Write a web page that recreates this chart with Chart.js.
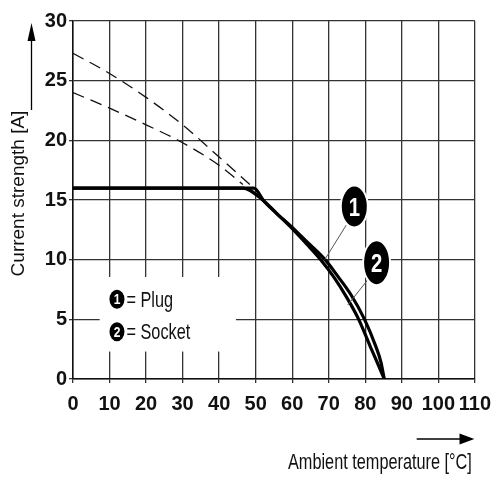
<!DOCTYPE html>
<html>
<head>
<meta charset="utf-8">
<script src="https://cdn.jsdelivr.net/npm/chart.js@4"></script>
<style>
  html, body { margin: 0; padding: 0; background: #fff; }
  #wrap { width: 500px; height: 500px; position: relative; }
</style>
</head>
<body>
<div id="wrap"><canvas id="c" width="500" height="500"></canvas></div>
<script>
// ---- data ----
const xTicks = [0, 10, 20, 30, 40, 50, 60, 70, 80, 90, 100, 110];
const yTicks = [0, 5, 10, 15, 20, 25, 30];

const plugX = [0, 49.5, 52.3, 56, 60, 64, 69, 72.5, 76, 79.8, 82.8, 84.3, 85.2];
const plugY = [16, 16, 14.9, 13.8, 12.7, 11.5, 10, 8.6, 7.1, 5, 2.8, 1.4, 0];

const socketX = [0, 46.5, 52.3, 56, 60, 64, 67.8, 71.5, 75, 78.2, 81.4, 83.4, 85.2];
const socketY = [16, 16, 14.9, 13.8, 12.6, 11.3, 10, 8.5, 6.8, 5, 2.7, 1.3, 0];

const baseUpperX = [0, 10, 20, 30, 40, 49.5];
const baseUpperY = [27.3, 25.6, 23.6, 21.3, 18.6, 16];

const baseLowerX = [0, 10, 20, 30, 40, 46.5];
const baseLowerY = [24, 22.7, 21.3, 19.8, 17.9, 16.3];

const legendLabels = ['= Plug', '= Socket'];
const calloutLabels = ['1', '2'];
const xTitle = 'Ambient temperature [°C]';
const yTitle = 'Current strength [A]';

function pts(xs, ys) { return xs.map((v, i) => ({ x: v, y: ys[i] })); }

// annotation anchors (data units)
const callouts = [
  { label: calloutLabels[0], cx: 77.0, cy: 14.45, rx: 13.5, ry: 21, tx: 68.9, ty: 10.0, lx: 74.8, ly: 12.9 },
  { label: calloutLabels[1], cx: 83.1, cy: 9.75, rx: 13.5, ry: 22.5, tx: 75.2, ty: 6.2, lx: 80.9, ly: 8.4 }
];

function condText(ctx, text, x, y, font, sx, align, color) {
  ctx.save();
  ctx.font = font;
  ctx.fillStyle = color || '#000';
  ctx.textAlign = align || 'left';
  ctx.textBaseline = 'alphabetic';
  ctx.translate(x, y);
  ctx.scale(sx, 1);
  ctx.fillText(text, 0, 0);
  ctx.restore();
}

const deco = {
  id: 'deco',
  beforeDatasetsDraw(chart) {
    const { ctx, scales: { x, y } } = chart;
    const x0 = x.getPixelForValue(7.3), x1 = x.getPixelForValue(44.6);
    const y0 = y.getPixelForValue(8.55), y1 = y.getPixelForValue(2.3);
    ctx.save();
    ctx.fillStyle = '#fff';
    ctx.fillRect(x0, y0, x1 - x0, y1 - y0);
    const rows = [299.3 - 379, 331.7 - 379];
    legendLabels.forEach((lab, i) => {
      const cy = y.getPixelForValue(0) + rows[i];
      const cx = x0 + 17.3;
      ctx.beginPath();
      ctx.ellipse(cx, cy, 7.5, 9.5, 0, 0, Math.PI * 2);
      ctx.fillStyle = '#000';
      ctx.fill();
      condText(ctx, calloutLabels[i], cx, cy + 5, 'bold 15px "Liberation Sans", Arial, sans-serif', 0.8, 'center', '#fff');
      condText(ctx, lab, cx + 9.5, cy + 7.3, '22px "Liberation Sans", Arial, sans-serif', 0.74, 'left', '#111');
    });
    ctx.restore();
  },
  afterDatasetsDraw(chart) {
    const { ctx, scales: { x, y } } = chart;
    ctx.save();
    callouts.forEach(c => {
      const cx = x.getPixelForValue(c.cx), cy = y.getPixelForValue(c.cy);
      ctx.beginPath();
      ctx.strokeStyle = '#555';
      ctx.lineWidth = 1;
      ctx.moveTo(x.getPixelForValue(c.lx), y.getPixelForValue(c.ly));
      ctx.lineTo(x.getPixelForValue(c.tx), y.getPixelForValue(c.ty));
      ctx.stroke();
      ctx.beginPath();
      ctx.ellipse(cx, cy, c.rx, c.ry, 0, 0, Math.PI * 2);
      ctx.fillStyle = '#000';
      ctx.fill();
      ctx.lineWidth = 2;
      ctx.strokeStyle = '#fff';
      ctx.stroke();
      condText(ctx, c.label, cx, cy + 9, 'bold 26px "Liberation Sans", Arial, sans-serif', 0.78, 'center', '#fff');
    });
    ctx.restore();
  },
  afterDraw(chart) {
    const { ctx, chartArea } = chart;
    ctx.save();
    ctx.save();
    ctx.translate(23.5, 193.5);
    ctx.rotate(-Math.PI / 2);
    ctx.font = '19px "Liberation Sans", Arial, sans-serif';
    ctx.fillStyle = '#111';
    ctx.textAlign = 'center';
    ctx.fillText(yTitle, 0, 0);
    ctx.restore();
    ctx.strokeStyle = '#000';
    ctx.fillStyle = '#000';
    ctx.lineWidth = 1.3;
    ctx.beginPath();
    ctx.moveTo(31.5, 110);
    ctx.lineTo(31.5, 38);
    ctx.stroke();
    ctx.beginPath();
    ctx.moveTo(31.5, 23);
    ctx.lineTo(27.5, 41);
    ctx.lineTo(35.5, 41);
    ctx.closePath();
    ctx.fill();
    condText(ctx, xTitle, chartArea.right - 3, 469.3, '22px "Liberation Sans", Arial, sans-serif', 0.74, 'right', '#111');
    ctx.beginPath();
    ctx.moveTo(416.7, 439);
    ctx.lineTo(462, 439);
    ctx.stroke();
    ctx.beginPath();
    ctx.moveTo(474.3, 439);
    ctx.lineTo(459.5, 433.5);
    ctx.lineTo(459.5, 444.5);
    ctx.closePath();
    ctx.fill();
    ctx.restore();
  }
};

const tickFont = { family: '"Liberation Sans", Arial, sans-serif', size: 20, weight: 'bold' };

new Chart(document.getElementById('c'), {
  type: 'line',
  data: {
    datasets: [
      { label: 'Base 1', data: pts(baseUpperX, baseUpperY), borderColor: '#111', borderWidth: 1.3, borderDash: [12, 7], pointRadius: 0, cubicInterpolationMode: 'monotone', fill: false },
      { label: 'Base 2', data: pts(baseLowerX, baseLowerY), borderColor: '#111', borderWidth: 1.3, borderDash: [12, 7], pointRadius: 0, cubicInterpolationMode: 'monotone', fill: false },
      { label: 'Plug', data: pts(plugX, plugY), borderColor: '#000', borderWidth: 3.2, pointRadius: 0, cubicInterpolationMode: 'monotone', fill: false },
      { label: 'Socket', data: pts(socketX, socketY), borderColor: '#000', borderWidth: 3.2, pointRadius: 0, cubicInterpolationMode: 'monotone', fill: false }
    ]
  },
  options: {
    responsive: false,
    animation: false,
    events: [],
    layout: { padding: { left: 0, top: 21, right: 24, bottom: 0 } },
    plugins: { legend: { display: false }, tooltip: { enabled: false }, title: { display: false } },
    scales: {
      x: {
        type: 'linear', min: 0, max: 110,
        afterBuildTicks: s => { s.ticks = xTicks.map(v => ({ value: v })); },
        afterFit: s => { s.height = 121; },
        grid: { color: '#333', lineWidth: 1.3, tickLength: 4 },
        border: { color: '#111', width: 1.5 },
        ticks: { color: '#111', font: tickFont, padding: 9, maxRotation: 0, autoSkip: false }
      },
      y: {
        type: 'linear', min: 0, max: 30,
        afterBuildTicks: s => { s.ticks = yTicks.map(v => ({ value: v })); },
        afterFit: s => { s.width = 73; },
        grid: { color: '#333', lineWidth: 1.3, tickLength: 4 },
        border: { color: '#111', width: 1.5 },
        ticks: { color: '#111', font: tickFont, padding: 2, autoSkip: false }
      }
    }
  },
  plugins: [deco]
});
</script>
</body>
</html>
